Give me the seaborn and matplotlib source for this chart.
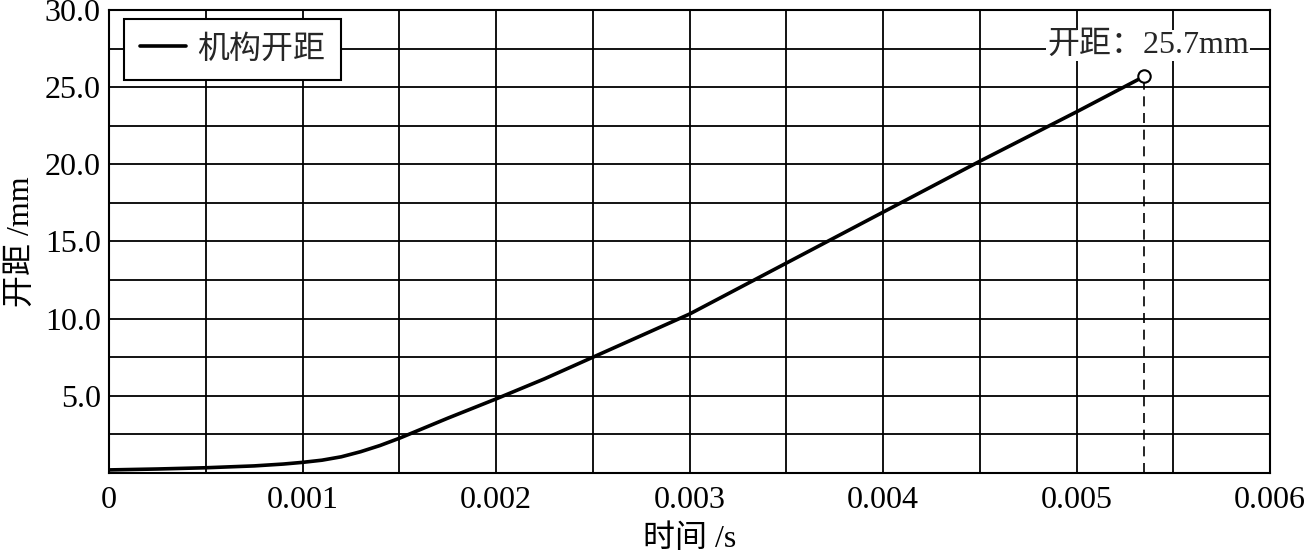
import matplotlib
matplotlib.use("Agg")
import matplotlib.pyplot as plt
import seaborn as sns
import pandas as pd
import numpy as np

# data
time_s = [0.0, 0.00025, 0.0005, 0.00075, 0.0009, 0.001, 0.0011, 0.0012, 0.0013, 0.0014, 0.0015,
          0.00175, 0.002, 0.00225, 0.0025, 0.00275, 0.003, 0.0035, 0.004, 0.0045, 0.005, 0.00535]
gap_mm = [0.2, 0.26, 0.34, 0.46, 0.58, 0.69, 0.83, 1.05, 1.38, 1.78, 2.25,
          3.55, 4.8, 6.1, 7.5, 8.9, 10.3, 13.6, 16.9, 20.2, 23.4, 25.7]
end_time = 0.00535
end_gap = 25.7
x_ticks = [0, 0.001, 0.002, 0.003, 0.004, 0.005, 0.006]
x_labels = ["0", "0.001", "0.002", "0.003", "0.004", "0.005", "0.006"]
y_ticks = [5, 10, 15, 20, 25, 30]
y_labels = ["5.0", "10.0", "15.0", "20.0", "25.0", "30.0"]
series_name = "机构开距"
annot_text = "开距：25.7mm"

sns.set_theme(style="white")
plt.rcParams['font.family'] = ['Liberation Serif', 'Noto Sans CJK SC']
plt.rcParams['axes.unicode_minus'] = False

df = pd.DataFrame({"t": time_s, "d": gap_mm, "s": series_name})

fig = plt.figure(figsize=(13.06, 5.54), dpi=100)
ax = fig.add_axes([0.0835, 0.1462, 0.889, 0.8358])

sns.lineplot(data=df, x="t", y="d", hue="s", palette=["black"], linewidth=2.6, ax=ax)

ax.set_xlim(0, 0.006)
ax.set_ylim(0, 30)
ax.set_xticks(np.arange(0, 0.00601, 0.0005), minor=True)
ax.set_yticks(np.arange(0, 30.01, 2.5), minor=True)
ax.set_xticks(x_ticks)
ax.set_xticklabels(x_labels)
ax.set_yticks(y_ticks)
ax.set_yticklabels(y_labels)
ax.grid(True, which="both", color="black", linewidth=1.3)
ax.set_axisbelow(True)
ax.tick_params(axis="both", which="both", length=0, labelsize=23, colors="black", pad=6)
ax.tick_params(axis="x", pad=9)
for sp in ax.spines.values():
    sp.set_color("black")
    sp.set_linewidth(1.5)

# dashed vertical to end point and marker
ax.plot([end_time, end_time], [0, end_gap], color="black", linestyle=(0, (6, 4)), linewidth=1.2, zorder=3)
ax.scatter([end_time], [end_gap], s=80, facecolor="white", edgecolor="black", linewidth=1.5, zorder=5)

ax.text(0.00537, 27.7, annot_text, ha="center", va="center", fontsize=23,
        bbox=dict(facecolor="white", edgecolor="none", pad=1), zorder=6)

ax.set_xlabel("时间 /s", fontsize=23, color="black", labelpad=7)
ax.set_ylabel("开距 /mm", fontsize=23, color="black", labelpad=6)

leg = ax.legend(loc="upper left", fontsize=23, frameon=True, fancybox=False,
                handlelength=1.45, handletextpad=0.35, borderpad=0.5, borderaxespad=0,
                bbox_to_anchor=(0.0129, 0.9806))
leg.get_frame().set_edgecolor("black")
leg.get_frame().set_linewidth(1.5)
leg.get_frame().set_alpha(1)
for line in leg.get_lines():
    line.set_linewidth(2.6)

fig.savefig("out.png", dpi=100)
